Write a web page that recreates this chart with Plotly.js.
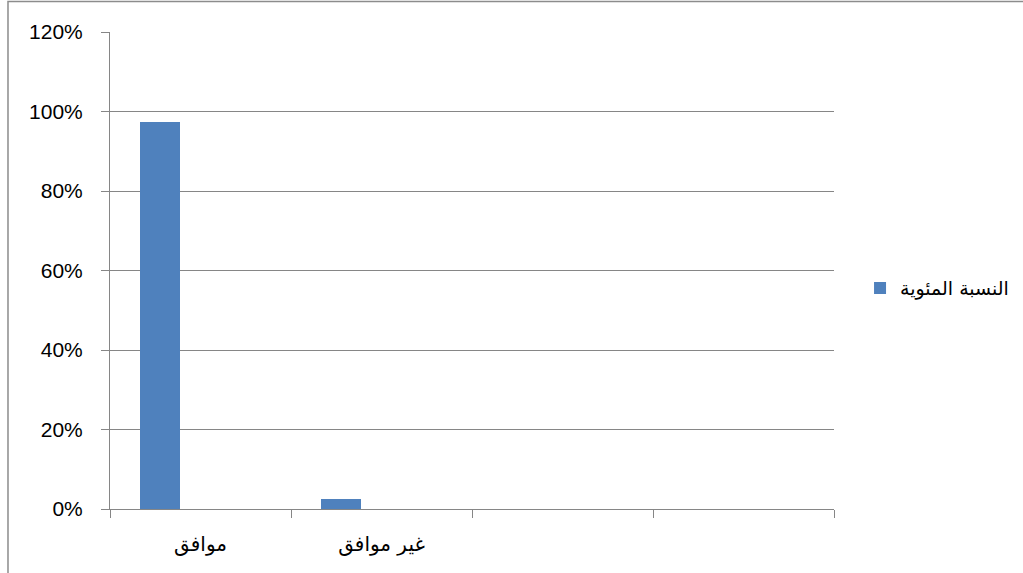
<!DOCTYPE html>
<html>
<head>
<meta charset="utf-8">
<script src="https://cdn.plot.ly/plotly-3.0.1.min.js"></script>
<style>html,body{margin:0;padding:0;background:#fff;}#chart{width:1023px;height:573px;}</style>
</head>
<body>
<div id="chart"></div>
<script>
var categories = ['موافق', 'غير موافق', ' ', '  '];
var seriesName = 'النسبة المئوية';
var seriesValues = [0.974, 0.026];
var yTickVals = [0, 0.2, 0.4, 0.6, 0.8, 1.0, 1.2];
var yTickText = ['0%', '20%', '40%', '60%', '80%', '100%', '120%'];

var gray = '#868686';
var fontFam = 'Arial, "Liberation Sans", "DejaVu Sans", sans-serif';
var arabicFam = '"DejaVu Sans", Arial, sans-serif';

var trace = {
  type: 'bar',
  name: seriesName,
  x: categories.slice(0, seriesValues.length),
  y: seriesValues,
  width: 0.2215,
  offset: -0.3325,
  marker: {color: '#4F81BD', line: {color: '#4F81BD', width: 0}},
  showlegend: true
};

var layout = {
  width: 1023,
  height: 573,
  margin: {l: 110, r: 189, t: 32, b: 64, pad: 0, autoexpand: false},
  paper_bgcolor: '#ffffff',
  plot_bgcolor: '#ffffff',
  font: {family: fontFam, color: '#000000'},
  bargap: 0,
  xaxis: {
    type: 'category',
    categoryorder: 'array',
    categoryarray: categories,
    range: [-0.5, 3.5],
    tickson: 'boundaries',
    ticks: 'outside',
    ticklen: 8,
    tickwidth: 1,
    tickcolor: gray,
    showline: true,
    linecolor: gray,
    linewidth: 1,
    showgrid: false,
    zeroline: false,
    ticklabelstandoff: 17,
    tickfont: {family: arabicFam, size: 20, color: '#000'},
    fixedrange: true
  },
  yaxis: {
    range: [0, 1.2],
    tickvals: yTickVals,
    ticktext: yTickText,
    ticks: 'outside',
    ticklen: 8,
    tickwidth: 1,
    tickcolor: gray,
    showline: true,
    linecolor: gray,
    linewidth: 1,
    showgrid: true,
    gridcolor: gray,
    gridwidth: 1,
    zeroline: false,
    ticklabelstandoff: 14,
    tickfont: {family: fontFam, size: 21, color: '#000'},
    fixedrange: true
  },
  showlegend: true,
  legend: {
    xref: 'container',
    x: 0.8407,
    y: 0.463,
    xanchor: 'left',
    yanchor: 'middle',
    itemwidth: 30,
    bgcolor: 'rgba(0,0,0,0)',
    borderwidth: 0,
    font: {family: arabicFam, size: 19, color: '#000'}
  },
  shapes: [{
    type: 'rect',
    xref: 'paper', yref: 'paper',
    x0: -0.1409, x1: 1.4,
    y0: -0.3, y1: 1.064,
    line: {color: '#8c8c8c', width: 1.5},
    fillcolor: 'rgba(0,0,0,0)',
    layer: 'below'
  }]
};

Plotly.newPlot('chart', [trace], layout, {displayModeBar: false, staticPlot: true});
</script>
</body>
</html>
